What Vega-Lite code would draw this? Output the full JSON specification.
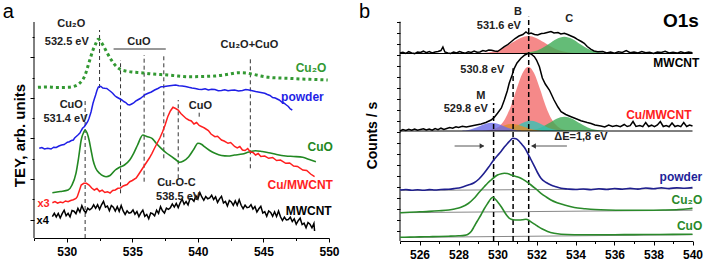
{
"$schema":"https://vega.github.io/schema/vega-lite/v6.json",
"padding":{"left":2,"top":0,"right":0,"bottom":0},
"spacing":71,
"bounds":"flush",
"resolve":{"scale":{"x":"independent","y":"independent","color":"independent","fill":"independent"}},
"config":{"view":{"stroke":null},"font":"Liberation Sans","text":{"font":"Liberation Sans"},
"axis":{"grid":false,"labelFont":"Liberation Sans","labelFontWeight":"bold","labelFontSize":12,"labelColor":"#000","titleFont":"Liberation Sans","titleFontWeight":"bold","titleColor":"#000","domainColor":"#000","tickColor":"#000","domainWidth":1,"tickWidth":1}},
"datasets":{
"a_cu2o":[{"x":527.8,"v":150.7},{"x":528.5,"v":151},{"x":529.2,"v":150.5},{"x":530.1,"v":150.7},{"x":530.5,"v":151.5},{"x":530.8,"v":153},{"x":531.0,"v":155},{"x":531.2,"v":158},{"x":531.4,"v":163},{"x":531.6,"v":171.3},{"x":531.8,"v":180},{"x":532.0,"v":188},{"x":532.2,"v":194},{"x":532.4,"v":198.7},{"x":532.6,"v":196.3},{"x":532.8,"v":192},{"x":533.1,"v":184.7},{"x":533.4,"v":178},{"x":533.8,"v":171.3},{"x":534.1,"v":168.5},{"x":534.4,"v":167.3},{"x":535.0,"v":166},{"x":535.7,"v":165.3},{"x":536.5,"v":164},{"x":537.7,"v":163},{"x":538.5,"v":162},{"x":539.3,"v":161.3},{"x":540.3,"v":161.5},{"x":541.3,"v":162},{"x":542.2,"v":163.5},{"x":543.1,"v":165.3},{"x":543.7,"v":165},{"x":544.1,"v":164},{"x":544.8,"v":162},{"x":545.4,"v":160.7},{"x":546.2,"v":160},{"x":546.9,"v":159.7},{"x":547.8,"v":159},{"x":548.5,"v":158.7},{"x":549.3,"v":158.3},{"x":549.9,"v":158}],
"a_powder":[{"x":527.9,"v":89.7},{"x":528.1,"v":90.5},{"x":528.3,"v":89},{"x":528.55,"v":89.8},{"x":528.8,"v":89},{"x":529.0,"v":90.8},{"x":529.2,"v":90.5},{"x":529.4,"v":92},{"x":529.6,"v":93},{"x":529.8,"v":93.5},{"x":529.9,"v":94.5},{"x":530.05,"v":95.8},{"x":530.2,"v":96.3},{"x":530.35,"v":97.5},{"x":530.5,"v":98},{"x":530.6,"v":100},{"x":530.7,"v":101.3},{"x":530.85,"v":103},{"x":531.0,"v":105},{"x":531.1,"v":107.5},{"x":531.2,"v":109.7},{"x":531.35,"v":111.5},{"x":531.5,"v":114.5},{"x":531.6,"v":116.5},{"x":531.7,"v":119.7},{"x":531.85,"v":126},{"x":532.0,"v":134.7},{"x":532.1,"v":139},{"x":532.2,"v":143},{"x":532.3,"v":147.5},{"x":532.4,"v":150.7},{"x":532.5,"v":151.8},{"x":532.6,"v":151.5},{"x":532.75,"v":150},{"x":532.9,"v":149.7},{"x":533.05,"v":149.5},{"x":533.2,"v":148},{"x":533.35,"v":146.5},{"x":533.5,"v":144.7},{"x":533.65,"v":142.5},{"x":533.8,"v":141},{"x":534.0,"v":139.5},{"x":534.2,"v":138},{"x":534.35,"v":136.5},{"x":534.5,"v":135.5},{"x":534.65,"v":133.5},{"x":534.8,"v":133},{"x":534.95,"v":134},{"x":535.1,"v":135},{"x":535.25,"v":136.8},{"x":535.4,"v":138},{"x":535.6,"v":139.5},{"x":535.8,"v":141.5},{"x":536.0,"v":143.5},{"x":536.2,"v":144.7},{"x":536.45,"v":146},{"x":536.7,"v":148},{"x":536.95,"v":149.5},{"x":537.2,"v":151.3},{"x":537.45,"v":151.5},{"x":537.7,"v":152},{"x":538.0,"v":152.5},{"x":538.3,"v":153},{"x":538.55,"v":152.3},{"x":538.8,"v":152},{"x":539.05,"v":151.5},{"x":539.3,"v":150.7},{"x":539.55,"v":150},{"x":539.8,"v":149.5},{"x":540.05,"v":148.8},{"x":540.3,"v":148.5},{"x":540.55,"v":149.3},{"x":540.8,"v":148},{"x":541.05,"v":148.7},{"x":541.3,"v":148.5},{"x":541.55,"v":147.3},{"x":541.8,"v":147.5},{"x":542.05,"v":148.3},{"x":542.3,"v":147.3},{"x":542.55,"v":147.8},{"x":542.8,"v":148},{"x":543.1,"v":147},{"x":543.4,"v":147.5},{"x":543.65,"v":148.5},{"x":543.9,"v":148},{"x":544.15,"v":147.3},{"x":544.4,"v":146.5},{"x":544.6,"v":146},{"x":544.8,"v":145.5},{"x":545.0,"v":145},{"x":545.1,"v":144.7},{"x":545.3,"v":143.5},{"x":545.5,"v":142.5},{"x":545.7,"v":140.5},{"x":545.9,"v":140},{"x":546.05,"v":139},{"x":546.2,"v":138},{"x":546.4,"v":136},{"x":546.6,"v":134.5},{"x":546.75,"v":133},{"x":546.9,"v":131.5},{"x":547.05,"v":129},{"x":547.2,"v":128}],
"a_cuo":[{"x":528.9,"v":45.3},{"x":529.5,"v":46.5},{"x":530.1,"v":48},{"x":530.4,"v":53},{"x":530.7,"v":64.7},{"x":530.9,"v":80},{"x":531.1,"v":98},{"x":531.3,"v":106},{"x":531.4,"v":108},{"x":531.55,"v":105},{"x":531.7,"v":98},{"x":531.85,"v":88},{"x":532.0,"v":78},{"x":532.2,"v":70},{"x":532.5,"v":64.7},{"x":532.8,"v":62},{"x":533.0,"v":61.3},{"x":533.3,"v":62.5},{"x":533.7,"v":68},{"x":534.0,"v":70.5},{"x":534.4,"v":73},{"x":534.8,"v":78},{"x":535.1,"v":84.7},{"x":535.4,"v":93},{"x":535.8,"v":103},{"x":536.1,"v":101.5},{"x":536.5,"v":99.7},{"x":536.8,"v":95},{"x":537.2,"v":89.7},{"x":537.6,"v":85},{"x":538.0,"v":81.3},{"x":538.3,"v":78.5},{"x":538.6,"v":75.7},{"x":538.9,"v":77},{"x":539.3,"v":81.3},{"x":539.7,"v":89},{"x":540.0,"v":94.7},{"x":540.3,"v":93.5},{"x":540.5,"v":91.3},{"x":540.9,"v":87.5},{"x":541.3,"v":84.7},{"x":541.8,"v":82.5},{"x":542.3,"v":82},{"x":542.8,"v":83},{"x":543.4,"v":84},{"x":543.9,"v":86},{"x":544.4,"v":87.3},{"x":544.9,"v":86.5},{"x":545.4,"v":85.3},{"x":546.0,"v":83.5},{"x":546.7,"v":82},{"x":547.3,"v":81.5},{"x":548.0,"v":80.7},{"x":548.5,"v":78.5},{"x":549.0,"v":76.3}],
"a_red":[{"x":528.9,"v":35.3},{"x":529.1,"v":36.5},{"x":529.3,"v":34.8},{"x":529.5,"v":36},{"x":529.7,"v":35.2},{"x":529.9,"v":37},{"x":530.1,"v":36.3},{"x":530.3,"v":37.5},{"x":530.5,"v":38.3},{"x":530.7,"v":39.5},{"x":530.8,"v":41.3},{"x":530.95,"v":47},{"x":531.1,"v":53},{"x":531.3,"v":54.7},{"x":531.5,"v":54.7},{"x":531.7,"v":53},{"x":531.9,"v":50},{"x":532.1,"v":48},{"x":532.3,"v":49.5},{"x":532.5,"v":46.5},{"x":532.7,"v":47.8},{"x":532.9,"v":45.5},{"x":533.1,"v":46.3},{"x":533.3,"v":45},{"x":533.5,"v":47.5},{"x":533.7,"v":48},{"x":533.9,"v":49.7},{"x":534.1,"v":50},{"x":534.3,"v":52},{"x":534.6,"v":53.5},{"x":534.8,"v":56.3},{"x":535.0,"v":57.5},{"x":535.3,"v":60},{"x":535.5,"v":64},{"x":535.7,"v":68},{"x":535.9,"v":72},{"x":536.1,"v":76},{"x":536.3,"v":80},{"x":536.5,"v":84.7},{"x":536.7,"v":90},{"x":536.9,"v":95},{"x":537.1,"v":100},{"x":537.3,"v":106},{"x":537.5,"v":113},{"x":537.7,"v":121.3},{"x":537.9,"v":127},{"x":538.1,"v":130.7},{"x":538.3,"v":129.5},{"x":538.5,"v":128},{"x":538.7,"v":124.5},{"x":538.9,"v":122},{"x":539.1,"v":119.5},{"x":539.3,"v":118},{"x":539.5,"v":117},{"x":539.7,"v":114},{"x":539.9,"v":115.5},{"x":540.1,"v":112.5},{"x":540.3,"v":111.3},{"x":540.5,"v":110},{"x":540.8,"v":107.5},{"x":541.0,"v":104},{"x":541.3,"v":101.3},{"x":541.5,"v":101.8},{"x":541.8,"v":98},{"x":542.0,"v":97},{"x":542.3,"v":94.7},{"x":542.5,"v":95.5},{"x":542.8,"v":91.5},{"x":543.0,"v":90},{"x":543.2,"v":91.5},{"x":543.4,"v":88},{"x":543.6,"v":87.5},{"x":543.8,"v":89.5},{"x":544.0,"v":86},{"x":544.2,"v":85.5},{"x":544.4,"v":83},{"x":544.6,"v":84.5},{"x":544.8,"v":81.5},{"x":545.1,"v":82},{"x":545.4,"v":79.7},{"x":545.7,"v":80.5},{"x":546.0,"v":77.5},{"x":546.3,"v":78},{"x":546.7,"v":74.7},{"x":547.0,"v":75},{"x":547.3,"v":72},{"x":547.6,"v":71.5},{"x":548.0,"v":68},{"x":548.3,"v":67.5},{"x":548.6,"v":64},{"x":548.9,"v":61.3}],
"a_mw":[{"x":528.9,"v":21.3},{"x":529.05,"v":24.7},{"x":529.2,"v":21.1},{"x":529.35,"v":24.6},{"x":529.5,"v":20},{"x":529.65,"v":24.4},{"x":529.8,"v":27.8},{"x":529.95,"v":22.3},{"x":530.1,"v":24.7},{"x":530.25,"v":21.1},{"x":530.4,"v":27.5},{"x":530.55,"v":26.8},{"x":530.7,"v":24.2},{"x":530.85,"v":29.6},{"x":531.0,"v":26},{"x":531.15,"v":32.4},{"x":531.3,"v":27.7},{"x":531.45,"v":25.2},{"x":531.6,"v":29.7},{"x":531.75,"v":28.2},{"x":531.9,"v":29.7},{"x":532.05,"v":33.2},{"x":532.2,"v":29.7},{"x":532.35,"v":33.2},{"x":532.5,"v":28.7},{"x":532.65,"v":33.2},{"x":532.8,"v":36.7},{"x":532.95,"v":30.8},{"x":533.1,"v":32},{"x":533.25,"v":27.3},{"x":533.4,"v":32.5},{"x":533.55,"v":30.8},{"x":533.7,"v":27},{"x":533.85,"v":31.3},{"x":534.0,"v":26.7},{"x":534.15,"v":32.4},{"x":534.3,"v":27},{"x":534.45,"v":23.6},{"x":534.6,"v":27.2},{"x":534.75,"v":24.8},{"x":534.9,"v":25.5},{"x":535.05,"v":28.1},{"x":535.2,"v":23.7},{"x":535.35,"v":26.5},{"x":535.5,"v":21.3},{"x":535.65,"v":25.1},{"x":535.8,"v":27.9},{"x":535.95,"v":21.7},{"x":536.1,"v":23.5},{"x":536.25,"v":19.3},{"x":536.4,"v":25.1},{"x":536.55,"v":24.3},{"x":536.7,"v":22.1},{"x":536.85,"v":27.8},{"x":537.0,"v":24.6},{"x":537.15,"v":31.4},{"x":537.3,"v":27.2},{"x":537.45,"v":25},{"x":537.6,"v":29.8},{"x":537.75,"v":28.6},{"x":537.9,"v":30.3},{"x":538.05,"v":34.1},{"x":538.2,"v":30.9},{"x":538.35,"v":34.6},{"x":538.5,"v":30.4},{"x":538.65,"v":35.2},{"x":538.8,"v":39},{"x":538.95,"v":33.7},{"x":539.1,"v":36.4},{"x":539.25,"v":33},{"x":539.4,"v":39.5},{"x":539.55,"v":39.1},{"x":539.7,"v":36.7},{"x":539.85,"v":42.3},{"x":540.0,"v":38.8},{"x":540.15,"v":45.4},{"x":540.3,"v":41},{"x":540.45,"v":37.7},{"x":540.6,"v":41.5},{"x":540.75,"v":39.2},{"x":540.9,"v":40},{"x":541.05,"v":42.7},{"x":541.2,"v":38.5},{"x":541.35,"v":41.1},{"x":541.5,"v":35.6},{"x":541.65,"v":39.1},{"x":541.8,"v":41.6},{"x":541.95,"v":35.1},{"x":542.1,"v":36.6},{"x":542.25,"v":32.1},{"x":542.4,"v":37.6},{"x":542.55,"v":36.1},{"x":542.7,"v":32.6},{"x":542.85,"v":37.1},{"x":543.0,"v":32.7},{"x":543.15,"v":38.2},{"x":543.3,"v":32.7},{"x":543.45,"v":29.3},{"x":543.6,"v":32.8},{"x":543.75,"v":30.3},{"x":543.9,"v":30.9},{"x":544.05,"v":33.4},{"x":544.2,"v":28.9},{"x":544.35,"v":31.5},{"x":544.5,"v":25.9},{"x":544.65,"v":29.2},{"x":544.8,"v":31.6},{"x":544.95,"v":25},{"x":545.1,"v":26.4},{"x":545.25,"v":21.7},{"x":545.4,"v":27.1},{"x":545.55,"v":25.5},{"x":545.7,"v":21.8},{"x":545.85,"v":26.2},{"x":546.0,"v":21.5},{"x":546.15,"v":26.9},{"x":546.3,"v":21.2},{"x":546.45,"v":17.5},{"x":546.6,"v":20.8},{"x":546.75,"v":18.1},{"x":546.9,"v":18.5},{"x":547.05,"v":20.9},{"x":547.2,"v":16.5},{"x":547.35,"v":19.1},{"x":547.5,"v":13.7},{"x":547.65,"v":17.3},{"x":547.8,"v":19.8},{"x":547.95,"v":13.4},{"x":548.1,"v":14.9},{"x":548.25,"v":10.2},{"x":548.4,"v":15.5},{"x":548.55,"v":13.8},{"x":548.7,"v":10.2},{"x":548.85,"v":14.5},{"x":548.9,"v":7}],
"b_mw":[{"x":525.0,"v":188},{"x":525.15,"v":188.8},{"x":525.3,"v":187.6},{"x":525.45,"v":189.3},{"x":525.6,"v":188.1},{"x":525.75,"v":187.4},{"x":525.9,"v":189},{"x":526.05,"v":188.5},{"x":526.2,"v":189.8},{"x":526.35,"v":188.3},{"x":526.5,"v":189.5},{"x":526.65,"v":188},{"x":526.8,"v":189},{"x":526.95,"v":189.6},{"x":527.1,"v":190.5},{"x":527.2,"v":194},{"x":527.3,"v":189},{"x":527.45,"v":188},{"x":527.6,"v":187.5},{"x":527.75,"v":189},{"x":527.9,"v":188},{"x":528.05,"v":189.5},{"x":528.2,"v":188.5},{"x":528.35,"v":187.8},{"x":528.5,"v":189.3},{"x":528.65,"v":188.5},{"x":528.8,"v":190},{"x":528.95,"v":188.7},{"x":529.1,"v":189},{"x":529.25,"v":190.5},{"x":529.4,"v":189.8},{"x":529.55,"v":191},{"x":529.7,"v":190.8},{"x":529.85,"v":190},{"x":530.0,"v":189.5},{"x":530.15,"v":191.5},{"x":530.35,"v":194.3},{"x":530.5,"v":196},{"x":530.7,"v":199.3},{"x":530.9,"v":202.5},{"x":531.1,"v":205},{"x":531.3,"v":206.5},{"x":531.46,"v":209},{"x":531.6,"v":207},{"x":531.72,"v":208},{"x":531.9,"v":206.5},{"x":532.06,"v":206},{"x":532.25,"v":207.5},{"x":532.4,"v":207.7},{"x":532.55,"v":208.5},{"x":532.74,"v":209.5},{"x":532.9,"v":208},{"x":533.1,"v":208.5},{"x":533.25,"v":207},{"x":533.43,"v":207.7},{"x":533.6,"v":206.5},{"x":533.77,"v":205},{"x":533.95,"v":203.5},{"x":534.1,"v":201.7},{"x":534.3,"v":199.5},{"x":534.45,"v":197.7},{"x":534.6,"v":194.5},{"x":534.8,"v":191.7},{"x":534.95,"v":190},{"x":535.14,"v":189.3},{"x":535.4,"v":189.5},{"x":535.6,"v":188},{"x":535.8,"v":189},{"x":536.0,"v":187.8},{"x":536.2,"v":189.3},{"x":536.4,"v":188.5},{"x":536.6,"v":190.5},{"x":536.8,"v":188.3},{"x":537.0,"v":189},{"x":537.2,"v":188},{"x":537.4,"v":189.5},{"x":537.6,"v":188.2},{"x":537.8,"v":188.8},{"x":538.0,"v":187.5},{"x":538.2,"v":189},{"x":538.4,"v":188.5},{"x":538.6,"v":189.8},{"x":538.8,"v":188},{"x":539.0,"v":188.8},{"x":539.2,"v":187.9},{"x":539.4,"v":189.2},{"x":539.6,"v":188.1},{"x":539.8,"v":188.9},{"x":540.0,"v":188.3}],
"b_cm":[{"x":525.0,"v":110},{"x":525.15,"v":111.5},{"x":525.3,"v":110.5},{"x":525.45,"v":111.8},{"x":525.6,"v":110.7},{"x":525.75,"v":112},{"x":525.9,"v":110.8},{"x":526.05,"v":111.6},{"x":526.2,"v":112.3},{"x":526.35,"v":111},{"x":526.5,"v":112},{"x":526.65,"v":110.8},{"x":526.8,"v":112.5},{"x":526.95,"v":111.3},{"x":527.1,"v":112.8},{"x":527.25,"v":111.5},{"x":527.4,"v":112.5},{"x":527.55,"v":113.5},{"x":527.7,"v":112.8},{"x":527.87,"v":114.3},{"x":528.0,"v":113.5},{"x":528.2,"v":114.8},{"x":528.4,"v":114},{"x":528.65,"v":115},{"x":528.9,"v":116},{"x":529.16,"v":117},{"x":529.4,"v":118.5},{"x":529.67,"v":121},{"x":529.85,"v":124},{"x":530.0,"v":127.7},{"x":530.2,"v":133},{"x":530.35,"v":141},{"x":530.5,"v":150},{"x":530.6,"v":157.7},{"x":530.75,"v":166},{"x":530.86,"v":172.7},{"x":531.0,"v":178},{"x":531.2,"v":182.7},{"x":531.4,"v":186},{"x":531.58,"v":187.7},{"x":531.72,"v":187},{"x":531.89,"v":184.3},{"x":532.0,"v":181},{"x":532.15,"v":174.3},{"x":532.3,"v":163},{"x":532.45,"v":157},{"x":532.66,"v":151},{"x":532.9,"v":141},{"x":533.1,"v":134},{"x":533.26,"v":129.3},{"x":533.5,"v":126.5},{"x":533.77,"v":124.3},{"x":534.0,"v":122.5},{"x":534.28,"v":120.3},{"x":534.6,"v":118.5},{"x":534.8,"v":117.5},{"x":535.0,"v":116},{"x":535.3,"v":115},{"x":535.5,"v":114},{"x":535.7,"v":116},{"x":535.9,"v":114.5},{"x":536.1,"v":115.5},{"x":536.3,"v":114.3},{"x":536.5,"v":116.5},{"x":536.65,"v":114.5},{"x":536.8,"v":115.3},{"x":536.95,"v":119.5},{"x":537.1,"v":114.5},{"x":537.3,"v":115.5},{"x":537.45,"v":114.3},{"x":537.6,"v":118.5},{"x":537.75,"v":114.5},{"x":537.9,"v":115.8},{"x":538.05,"v":114.3},{"x":538.2,"v":116},{"x":538.35,"v":119.5},{"x":538.5,"v":114.5},{"x":538.65,"v":115.5},{"x":538.8,"v":114.2},{"x":538.95,"v":118},{"x":539.1,"v":114.5},{"x":539.25,"v":115.5},{"x":539.4,"v":114.3},{"x":539.55,"v":118.5},{"x":539.7,"v":114.5},{"x":539.85,"v":116},{"x":540.0,"v":115}],
"b_pw":[{"x":525.0,"v":51},{"x":525.3,"v":51.5},{"x":525.6,"v":50.8},{"x":525.9,"v":51.3},{"x":526.2,"v":50.7},{"x":526.5,"v":51.4},{"x":526.8,"v":51},{"x":527.1,"v":51.5},{"x":527.5,"v":51.8},{"x":527.8,"v":52.5},{"x":528.13,"v":53.5},{"x":528.5,"v":56},{"x":528.8,"v":58.3},{"x":529.05,"v":62},{"x":529.32,"v":68},{"x":529.55,"v":74},{"x":529.75,"v":79.5},{"x":530.0,"v":85.5},{"x":530.18,"v":89.5},{"x":530.35,"v":94},{"x":530.52,"v":97.7},{"x":530.65,"v":100.5},{"x":530.78,"v":102.7},{"x":530.95,"v":102.3},{"x":531.1,"v":100},{"x":531.2,"v":97.7},{"x":531.4,"v":93},{"x":531.55,"v":87.7},{"x":531.7,"v":82},{"x":531.9,"v":74.3},{"x":532.05,"v":68.5},{"x":532.23,"v":62.7},{"x":532.5,"v":58.5},{"x":532.74,"v":56},{"x":533.0,"v":54.2},{"x":533.26,"v":52.7},{"x":533.6,"v":52},{"x":534.0,"v":51.5},{"x":534.4,"v":52},{"x":534.8,"v":51.3},{"x":535.2,"v":52.2},{"x":535.6,"v":51.5},{"x":536.0,"v":52.5},{"x":536.4,"v":51.8},{"x":536.8,"v":52.6},{"x":537.2,"v":51.9},{"x":537.6,"v":53},{"x":538.0,"v":52.2},{"x":538.4,"v":53.2},{"x":538.8,"v":52.4},{"x":539.2,"v":53.3},{"x":539.6,"v":52.8},{"x":540.0,"v":53.5}],
"b_c2":[{"x":525.0,"v":28.3},{"x":525.5,"v":28.8},{"x":526.0,"v":29.2},{"x":526.5,"v":29.6},{"x":527.0,"v":30.2},{"x":527.5,"v":31},{"x":527.8,"v":32},{"x":528.13,"v":33.7},{"x":528.5,"v":37.5},{"x":528.8,"v":42.7},{"x":529.05,"v":48.5},{"x":529.32,"v":54.3},{"x":529.5,"v":58},{"x":529.67,"v":61},{"x":529.85,"v":64},{"x":530.0,"v":66},{"x":530.2,"v":67.3},{"x":530.35,"v":67.7},{"x":530.5,"v":67.5},{"x":530.7,"v":66},{"x":530.95,"v":64.5},{"x":531.2,"v":62.7},{"x":531.45,"v":59.8},{"x":531.72,"v":56},{"x":532.0,"v":51.5},{"x":532.23,"v":47.7},{"x":532.5,"v":44},{"x":532.74,"v":41},{"x":533.1,"v":38},{"x":533.43,"v":36},{"x":533.94,"v":33.5},{"x":534.5,"v":32.3},{"x":535.0,"v":31.5},{"x":535.65,"v":31},{"x":536.5,"v":30.8},{"x":537.5,"v":30.8},{"x":538.5,"v":31},{"x":539.3,"v":31.5},{"x":539.8,"v":32.3},{"x":540.0,"v":32.7}],
"b_co":[{"x":525.0,"v":3.7},{"x":525.5,"v":3.9},{"x":526.0,"v":4.1},{"x":526.5,"v":4.3},{"x":527.0,"v":4.5},{"x":527.5,"v":4.8},{"x":528.0,"v":5.2},{"x":528.3,"v":5.6},{"x":528.47,"v":6.5},{"x":528.65,"v":9.5},{"x":528.8,"v":14.3},{"x":528.95,"v":19.5},{"x":529.15,"v":26},{"x":529.3,"v":31.5},{"x":529.5,"v":37.7},{"x":529.65,"v":42},{"x":529.75,"v":43.7},{"x":529.85,"v":42.5},{"x":530.0,"v":39.3},{"x":530.2,"v":34},{"x":530.35,"v":29.3},{"x":530.5,"v":25},{"x":530.7,"v":21.7},{"x":530.9,"v":21},{"x":531.1,"v":21},{"x":531.3,"v":21.3},{"x":531.46,"v":21.7},{"x":531.6,"v":20.8},{"x":531.7,"v":19.3},{"x":531.9,"v":16.8},{"x":532.06,"v":14.8},{"x":532.3,"v":12},{"x":532.57,"v":9.6},{"x":532.9,"v":7.8},{"x":533.26,"v":6.8},{"x":533.94,"v":6.3},{"x":535.0,"v":6.2},{"x":536.0,"v":6.3},{"x":537.0,"v":6.4},{"x":538.0,"v":6.5},{"x":539.0,"v":6.6},{"x":540.0,"v":6.8}],
"b_fills":[
{"s":"B1","x":529.18,"v":188,"v2":187.7},{"s":"B1","x":529.58,"v":188.7,"v2":187.7},{"s":"B1","x":529.98,"v":190.5,"v2":187.7},{"s":"B1","x":530.38,"v":193.9,"v2":187.7},{"s":"B1","x":530.78,"v":198.7,"v2":187.7},{"s":"B1","x":531.18,"v":203.1,"v2":187.7},{"s":"B1","x":531.58,"v":205,"v2":187.7},{"s":"B1","x":531.98,"v":203.1,"v2":187.7},{"s":"B1","x":532.38,"v":198.7,"v2":187.7},{"s":"B1","x":532.78,"v":193.9,"v2":187.7},{"s":"B1","x":533.18,"v":190.5,"v2":187.7},{"s":"B1","x":533.58,"v":188.7,"v2":187.7},{"s":"B1","x":533.98,"v":188,"v2":187.7},
{"s":"C1","x":531.43,"v":188.2,"v2":187.7},{"s":"C1","x":531.83,"v":189.4,"v2":187.7},{"s":"C1","x":532.23,"v":192.3,"v2":187.7},{"s":"C1","x":532.63,"v":197.1,"v2":187.7},{"s":"C1","x":533.03,"v":202.1,"v2":187.7},{"s":"C1","x":533.43,"v":204.3,"v2":187.7},{"s":"C1","x":533.83,"v":202.1,"v2":187.7},{"s":"C1","x":534.23,"v":197.1,"v2":187.7},{"s":"C1","x":534.63,"v":192.3,"v2":187.7},{"s":"C1","x":535.03,"v":189.4,"v2":187.7},{"s":"C1","x":535.43,"v":188.2,"v2":187.7},
{"s":"B2","x":529.48,"v":110.3,"v2":110},{"s":"B2","x":529.78,"v":111.4,"v2":110},{"s":"B2","x":530.08,"v":114.5,"v2":110},{"s":"B2","x":530.38,"v":121.7,"v2":110},{"s":"B2","x":530.68,"v":134.6,"v2":110},{"s":"B2","x":530.98,"v":152,"v2":110},{"s":"B2","x":531.28,"v":167.8,"v2":110},{"s":"B2","x":531.58,"v":174.3,"v2":110},{"s":"B2","x":531.88,"v":167.8,"v2":110},{"s":"B2","x":532.18,"v":152,"v2":110},{"s":"B2","x":532.48,"v":134.6,"v2":110},{"s":"B2","x":532.78,"v":121.7,"v2":110},{"s":"B2","x":533.08,"v":114.5,"v2":110},{"s":"B2","x":533.38,"v":111.4,"v2":110},{"s":"B2","x":533.68,"v":110.3,"v2":110},
{"s":"C2","x":531.43,"v":110.3,"v2":110},{"s":"C2","x":531.83,"v":111.2,"v2":110},{"s":"C2","x":532.23,"v":113.6,"v2":110},{"s":"C2","x":532.63,"v":117.7,"v2":110},{"s":"C2","x":533.03,"v":122.3,"v2":110},{"s":"C2","x":533.43,"v":124.3,"v2":110},{"s":"C2","x":533.83,"v":122.3,"v2":110},{"s":"C2","x":534.23,"v":117.7,"v2":110},{"s":"C2","x":534.63,"v":113.6,"v2":110},{"s":"C2","x":535.03,"v":111.2,"v2":110},{"s":"C2","x":535.43,"v":110.3,"v2":110},
{"s":"T2","x":529.9,"v":110.1,"v2":110},{"s":"T2","x":530.2,"v":110.5,"v2":110},{"s":"T2","x":530.5,"v":111.4,"v2":110},{"s":"T2","x":530.8,"v":113.3,"v2":110},{"s":"T2","x":531.1,"v":116.3,"v2":110},{"s":"T2","x":531.4,"v":119.1,"v2":110},{"s":"T2","x":531.7,"v":120.3,"v2":110},{"s":"T2","x":532.0,"v":119.1,"v2":110},{"s":"T2","x":532.3,"v":116.3,"v2":110},{"s":"T2","x":532.6,"v":113.3,"v2":110},{"s":"T2","x":532.9,"v":111.4,"v2":110},{"s":"T2","x":533.2,"v":110.5,"v2":110},{"s":"T2","x":533.5,"v":110.1,"v2":110},
{"s":"O2","x":529.25,"v":110.3,"v2":110},{"s":"O2","x":529.55,"v":110.9,"v2":110},{"s":"O2","x":529.85,"v":112.3,"v2":110},{"s":"O2","x":530.15,"v":114.2,"v2":110},{"s":"O2","x":530.45,"v":116.2,"v2":110},{"s":"O2","x":530.75,"v":117,"v2":110},{"s":"O2","x":531.05,"v":116.2,"v2":110},{"s":"O2","x":531.35,"v":114.2,"v2":110},{"s":"O2","x":531.65,"v":112.3,"v2":110},{"s":"O2","x":531.95,"v":110.9,"v2":110},{"s":"O2","x":532.25,"v":110.3,"v2":110},
{"s":"M2","x":528.2,"v":110.4,"v2":110},{"s":"M2","x":528.5,"v":111.1,"v2":110},{"s":"M2","x":528.8,"v":112.7,"v2":110},{"s":"M2","x":529.1,"v":115,"v2":110},{"s":"M2","x":529.4,"v":117.3,"v2":110},{"s":"M2","x":529.7,"v":118.3,"v2":110},{"s":"M2","x":530.0,"v":117.3,"v2":110},{"s":"M2","x":530.3,"v":115,"v2":110},{"s":"M2","x":530.6,"v":112.7,"v2":110},{"s":"M2","x":530.9,"v":111.1,"v2":110},{"s":"M2","x":531.2,"v":110.4,"v2":110}]
},
"hconcat":[
{
"width":295,"height":238,
"encoding":{
"x":{"field":"x","type":"quantitative","scale":{"domain":[527.5,550],"nice":false,"zero":false},
"axis":{"title":null,"values":[527.5,530,532.5,535,537.5,540,542.5,545,547.5,550],"labelExpr":"datum.value % 5 === 0 ? datum.label : ''","tickSize":{"condition":{"test":"datum.value % 5 === 0","value":4},"value":2.5},"labelPadding":4,"labelFlush":false,"labelOverlap":false}},
"y":{"field":"v","type":"quantitative","stack":null,"scale":{"domain":[0,238],"nice":false,"zero":false},
"axis":{"title":"TEY, arb. units","titleFontSize":15,"titleX":-15,"titleY":135,"titleAngle":-90,"titleAlign":"center","titleBaseline":"middle","domain":false,"labels":false,"values":[18.3,38.6,58.9,79.2,99.5,119.8,140.1,160.4,180.7,201],"tickSize":{"condition":{"test":"indexof([18.3,58.9,99.5,140.1,180.7], datum.value) >= 0","value":4},"value":2}}}
},
"layer":[
{"data":{"values":[{"x":527.5,"v":0,"v2":216}]},"mark":{"type":"rule","color":"#000","strokeWidth":1},"encoding":{"y2":{"field":"v2"}}},
{"data":{"values":[{"x":531.4,"v":0,"v2":138},{"x":532.5,"v":150,"v2":208},{"x":534.1,"v":44.7,"v2":178},{"x":535.9,"v":56.3,"v2":183},{"x":537.4,"v":79.7,"v2":183},{"x":538.5,"v":59.7,"v2":138},{"x":540.1,"v":121.3,"v2":126.3},{"x":544.0,"v":69.7,"v2":181.3}]},"mark":{"type":"rule","color":"#333","strokeWidth":1,"strokeDash":[4,3]},"encoding":{"y2":{"field":"v2"}}},
{"data":{"values":[{"x":533.57,"x2":537.55,"v":189}]},"mark":{"type":"rule","color":"#333","strokeWidth":1},"encoding":{"x2":{"field":"x2"}}},
{"data":{"name":"a_cu2o"},"mark":{"type":"line","color":"#339933","strokeWidth":3,"strokeDash":[3,3],"interpolate":"monotone"},"encoding":{}},
{"data":{"name":"a_powder"},"mark":{"type":"line","color":"#1f1fe6","strokeWidth":1.5},"encoding":{}},
{"data":{"name":"a_cuo"},"mark":{"type":"line","color":"#228822","strokeWidth":1.6,"interpolate":"monotone"},"encoding":{}},
{"data":{"name":"a_red"},"mark":{"type":"line","color":"#ff1f1f","strokeWidth":1.5},"encoding":{}},
{"data":{"name":"a_mw"},"mark":{"type":"line","color":"#000000","strokeWidth":1.5},"encoding":{}},
{"data":{"values":[{"s":"Cu2O","t":"Cu₂O","x":549.8,"v":169.7},{"s":"powder","t":"powder","x":549.6,"v":140.7},{"s":"CuO","t":"CuO","x":550.3,"v":91},{"s":"Cu/MWCNT","t":"Cu/MWCNT","x":550.3,"v":53},{"s":"MWCNT","t":"MWCNT","x":550.2,"v":27.3}]},
"mark":{"type":"text","align":"right","baseline":"middle","fontWeight":"bold","fontSize":12},
"encoding":{"text":{"field":"t"},"color":{"field":"s","type":"nominal","legend":null,"scale":{"domain":["Cu2O","powder","CuO","Cu/MWCNT","MWCNT"],"range":["#339933","#1f1fe6","#228822","#ff1f1f","#000000"]}}}},
{"data":{"values":[{"s":"Cu/MWCNT","t":"x3","x":527.76,"v":34},{"s":"MWCNT","t":"x4","x":527.7,"v":17.3}]},
"mark":{"type":"text","align":"left","baseline":"middle","fontWeight":"bold","fontSize":11},
"encoding":{"text":{"field":"t"},"color":{"field":"s","type":"nominal","legend":null,"scale":{"domain":["Cu2O","powder","CuO","Cu/MWCNT","MWCNT"],"range":["#339933","#1f1fe6","#228822","#ff1f1f","#000000"]}}}},
{"data":{"values":[{"t":"Cu₂O","x":530.34,"v":214},{"t":"532.5 eV","x":530.0,"v":196.3},{"t":"CuO","x":535.5,"v":196.3},{"t":"Cu₂O+CuO","x":543.93,"v":193},{"t":"CuO","x":530.34,"v":133},{"t":"531.4 eV","x":529.9,"v":118.7},{"t":"CuO","x":540.19,"v":132},{"t":"Cu-O-C","x":538.36,"v":54.7},{"t":"538.5 eV","x":538.49,"v":41.3}]},
"mark":{"type":"text","align":"center","baseline":"middle","fontWeight":"bold","fontSize":11,"color":"#222"},"encoding":{"text":{"field":"t"}}},
{"data":{"values":[{"t":"a","x":525.11,"v":220}]},"mark":{"type":"text","align":"left","baseline":"alphabetic","fontSize":20,"color":"#000"},"encoding":{"text":{"field":"t"}}}
]
},
{
"width":292.5,"height":241,
"encoding":{
"x":{"field":"x","type":"quantitative","scale":{"domain":[525,540],"nice":false,"zero":false},
"axis":{"title":null,"values":[525,526,527,528,529,530,531,532,533,534,535,536,537,538,539,540],"labelExpr":"datum.value % 2 === 0 ? datum.label : ''","tickSize":{"condition":{"test":"datum.value % 2 === 0","value":4},"value":2.5},"labelPadding":4,"labelFlush":false,"labelOverlap":false}},
"y":{"field":"v","type":"quantitative","stack":null,"scale":{"domain":[0,241],"nice":false,"zero":false},
"axis":{"title":"Counts / s","titleFontSize":14,"titleX":-28,"titleY":135,"titleAngle":-90,"titleAlign":"center","titleBaseline":"middle","domain":false,"labels":false,"values":[219.3,208.3,197.3,186.3,175.3,164.3,153.3,142.3,131.3,120.3,109.3,98.3,87.3,76.3,65.3,54.3,43.3,32.3,21.3,10.3],"tickSize":3.5}}
},
"layer":[
{"data":{"values":[{"x":525,"v":0,"v2":219.3}]},"mark":{"type":"rule","color":"#000","strokeWidth":1},"encoding":{"y2":{"field":"v2"}}},
{"data":{"name":"b_fills"},"mark":{"type":"area","opacity":0.8,"interpolate":"monotone"},"encoding":{"y2":{"field":"v2"},"fill":{"field":"s","type":"nominal","legend":null,"scale":{"domain":["B1","C1","B2","C2","T2","O2","M2"],"range":["#f26b6b","#3dab55","#f26b6b","#3dab55","#35c2b5","#e08c2a","#6b6be8"]}}}},
{"data":{"values":[{"x":525,"x2":540,"v":187.5},{"x":525,"x2":540,"v":110}]},"mark":{"type":"rule","color":"#000","strokeWidth":1},"encoding":{"x2":{"field":"x2"}}},
{"data":{"values":[{"x":525,"x2":540,"v":50.5,"v2":52.5},{"x":525,"x2":540,"v":28.3,"v2":30.8},{"x":525,"x2":540,"v":3.5,"v2":6.3}]},"mark":{"type":"rule","color":"#888","strokeWidth":1},"encoding":{"x2":{"field":"x2"},"y2":{"field":"v2"}}},
{"data":{"values":[{"x":529.8,"v":0,"v2":138},{"x":530.8,"v":0,"v2":172.7},{"x":531.6,"v":0,"v2":224.3}]},"mark":{"type":"rule","color":"#000","strokeWidth":1.5,"strokeDash":[5,3]},"encoding":{"y2":{"field":"v2"}}},
{"data":{"name":"b_mw"},"mark":{"type":"line","color":"#000","strokeWidth":1.5},"encoding":{}},
{"data":{"name":"b_cm"},"mark":{"type":"line","color":"#000","strokeWidth":1.5},"encoding":{}},
{"data":{"name":"b_pw"},"mark":{"type":"line","color":"#1f1f8f","strokeWidth":1.6,"interpolate":"monotone"},"encoding":{}},
{"data":{"name":"b_c2"},"mark":{"type":"line","color":"#2a8a2a","strokeWidth":1.6,"interpolate":"monotone"},"encoding":{}},
{"data":{"name":"b_co"},"mark":{"type":"line","color":"#2a8a2a","strokeWidth":1.6,"interpolate":"monotone"},"encoding":{}},
{"data":{"values":[{"x":527.8,"x2":529.3,"v":95},{"x":533.56,"x2":531.75,"v":95}]},"mark":{"type":"rule","color":"#555","strokeWidth":1},"encoding":{"x2":{"field":"x2"}}},
{"data":{"values":[{"x":529.2,"v":95}]},"mark":{"type":"point","shape":"triangle-right","filled":true,"size":28,"color":"#333","opacity":1},"encoding":{}},
{"data":{"values":[{"x":531.85,"v":95}]},"mark":{"type":"point","shape":"triangle-left","filled":true,"size":28,"color":"#333","opacity":1},"encoding":{}},
{"data":{"values":[{"s":"MWCNT","t":"MWCNT","x":540.35,"v":177.7},{"s":"Cu/MWCNT","t":"Cu/MWCNT","x":539.95,"v":126},{"s":"powder","t":"powder","x":540.5,"v":64},{"s":"Cu2O","t":"Cu₂O","x":540.5,"v":41},{"s":"CuO","t":"CuO","x":540.5,"v":15}]},
"mark":{"type":"text","align":"right","baseline":"middle","fontWeight":"bold","fontSize":12},
"encoding":{"text":{"field":"t"},"color":{"field":"s","type":"nominal","legend":null,"scale":{"domain":["MWCNT","Cu/MWCNT","powder","Cu2O","CuO"],"range":["#000000","#ff2020","#1f1f99","#2a8a2a","#2a8a2a"]}}}},
{"data":{"values":[{"t":"B","x":531.05,"v":229.5},{"t":"C","x":533.68,"v":221.7},{"t":"M","x":529.15,"v":145},{"t":"ΔE=1,8 eV","x":534.28,"v":103.7}]},
"mark":{"type":"text","align":"center","baseline":"middle","fontWeight":"bold","fontSize":11,"color":"#222"},"encoding":{"text":{"field":"t"}}},
{"data":{"values":[{"t":"531.6 eV","x":531.2,"v":215},{"t":"530.8 eV","x":530.35,"v":171.5},{"t":"529.8 eV","x":529.5,"v":131.7}]},
"mark":{"type":"text","align":"right","baseline":"middle","fontWeight":"bold","fontSize":11,"color":"#222"},"encoding":{"text":{"field":"t"}}},
{"data":{"values":[{"t":"O1s","x":540.33,"v":220.5}]},"mark":{"type":"text","align":"right","baseline":"middle","fontWeight":"bold","fontSize":19,"color":"#000"},"encoding":{"text":{"field":"t"}}},
{"data":{"values":[{"t":"b","x":522.9,"v":223}]},"mark":{"type":"text","align":"left","baseline":"alphabetic","fontSize":20,"color":"#000"},"encoding":{"text":{"field":"t"}}}
]
}
]
}
